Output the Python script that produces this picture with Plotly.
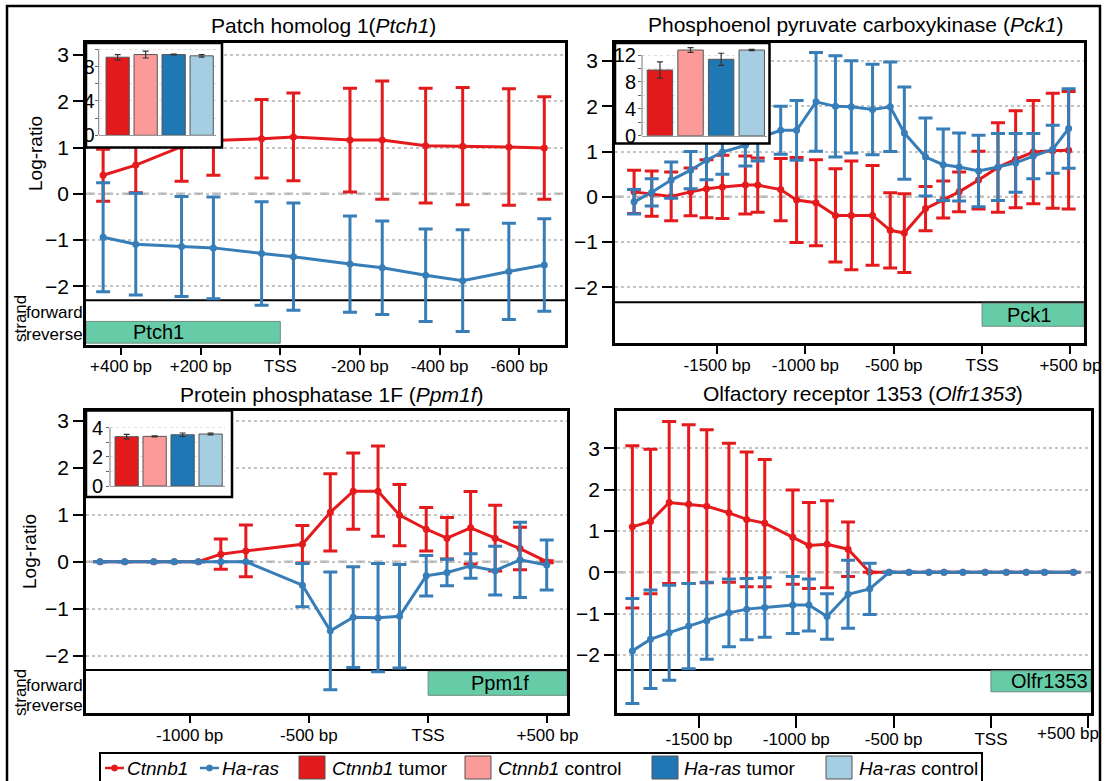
import plotly.graph_objects as go

W, H = 1105, 781
FONT = "Liberation Sans, Arial, sans-serif"


def fx(px):
    return px / W


def fy(py):
    return 1 - py / H


RED = "#E41A1C"
BLUE = "#377EB8"
BAR_COLORS = ["#E31A1C", "#FB9A99", "#1F78B4", "#A6CEE3"]
GENE_FILL = "rgb(102,204,168)"

# ---------------- data ----------------
# Ptch1 (reverse strand, x axis reversed)
ptch1_pos = [445, 363, 248, 168, 47, -33, -175, -256, -365, -458, -574, -663]
ptch1_ctnnb1 = [0.40, 0.62, 1.02, 1.15, 1.19, 1.23, 1.16, 1.16, 1.04, 1.03, 1.01, 0.99]
ptch1_ctnnb1_err = [0.56, 0.60, 0.75, 0.75, 0.85, 0.95, 1.12, 1.28, 1.24, 1.27, 1.26, 1.11]
ptch1_hras = [-0.94, -1.09, -1.14, -1.17, -1.29, -1.36, -1.52, -1.60, -1.76, -1.88, -1.68, -1.54]
ptch1_hras_err = [1.18, 1.10, 1.08, 1.10, 1.12, 1.16, 1.04, 1.01, 1.00, 1.10, 1.04, 1.00]
ptch1_ticks = [400, 200, 0, -200, -400, -600]
ptch1_ticktext = ["+400 bp", "+200 bp", "TSS", "-200 bp", "-400 bp", "-600 bp"]

# Pck1
pck1_pos = [-1970, -1870, -1760, -1650, -1560, -1470, -1340, -1270, -1140, -1050, -940, -830,
            -740, -620, -520, -440, -320, -220, -130, -20, 90, 190, 290, 400, 490]
pck1_ctnnb1 = [0.11, 0.07, 0.01, 0.11, 0.18, 0.22, 0.26, 0.26, 0.16, -0.07, -0.13, -0.41,
               -0.41, -0.41, -0.74, -0.80, -0.26, -0.06, 0.11, 0.37, 0.65, 0.83, 0.99, 1.02, 1.03]
pck1_ctnnb1_err = [0.48, 0.50, 0.54, 0.53, 0.64, 0.70, 0.64, 0.60, 0.69, 0.94, 0.95, 1.03,
                   1.20, 1.10, 0.83, 0.87, 0.49, 0.41, 0.44, 0.64, 0.99, 1.07, 1.14, 1.27, 1.30]
pck1_hras = [-0.11, 0.10, 0.37, 0.59, 0.81, 0.99, 1.14, 1.29, 1.47, 1.47, 2.10, 2.00,
             1.99, 1.93, 1.99, 1.41, 0.88, 0.71, 0.66, 0.57, 0.66, 0.75, 0.90, 1.05, 1.51]
pck1_hras_err = [0.27, 0.30, 0.40, 0.41, 0.43, 0.49, 0.46, 0.50, 0.53, 0.66, 1.09, 1.12,
                 1.02, 1.00, 0.99, 1.02, 0.86, 0.79, 0.75, 0.79, 0.74, 0.65, 0.50, 0.53, 0.88]
pck1_ticks = [-1500, -1000, -500, 0, 500]
pck1_ticktext = ["-1500 bp", "-1000 bp", "-500 bp", "TSS", "+500 bp"]

# Ppm1f
ppm1f_pos = [-1375, -1272, -1150, -1064, -963, -869, -764, -527, -410, -314, -210, -120,
             -8, 79, 178, 281, 385, 497]
ppm1f_ctnnb1 = [0, 0, 0, 0, 0, 0.16, 0.23, 0.37, 1.05, 1.50, 1.50, 0.99, 0.69, 0.50, 0.72, 0.50, 0.28, 0.0]
ppm1f_ctnnb1_err = [0, 0, 0, 0, 0, 0.32, 0.55, 0.40, 0.82, 0.81, 0.96, 0.65, 0.46, 0.44, 0.77, 0.70, 0.45, 0.02]
ppm1f_hras = [0, 0, 0, 0, 0, 0, 0, -0.50, -1.47, -1.18, -1.19, -1.16, -0.30, -0.23, -0.09, -0.19, 0.04, -0.07]
ppm1f_hras_err = [0, 0, 0, 0, 0, 0, 0, 0.46, 1.25, 1.07, 1.15, 1.10, 0.43, 0.28, 0.26, 0.52, 0.80, 0.53]
ppm1f_ticks = [-1000, -500, 0, 500]
ppm1f_ticktext = ["-1000 bp", "-500 bp", "TSS", "+500 bp"]

# Olfr1353 (the +500 bp label is pulled inside the frame, see annotation below)
olfr_pos = [-1842, -1749, -1653, -1553, -1460, -1346, -1255, -1162, -1018, -935, -842, -734,
            -623, -523, -421, -319, -241, -144, -30, 79, 181, 275, 424]
olfr_ctnnb1 = [1.10, 1.23, 1.69, 1.65, 1.60, 1.44, 1.28, 1.19, 0.85, 0.65, 0.68, 0.56,
               0, 0, 0, 0, 0, 0, 0, 0, 0, 0, 0]
olfr_ctnnb1_err = [1.96, 1.75, 1.96, 1.92, 1.85, 1.68, 1.63, 1.54, 1.14, 1.04, 1.05, 0.66,
                   0, 0, 0, 0, 0, 0, 0, 0, 0, 0, 0]
olfr_hras = [-1.90, -1.62, -1.46, -1.30, -1.17, -0.98, -0.89, -0.85, -0.79, -0.79, -1.07, -0.53,
             -0.40, 0, 0, 0, 0, 0, 0, 0, 0, 0, 0]
olfr_hras_err = [1.27, 1.19, 1.15, 1.03, 0.93, 0.82, 0.74, 0.72, 0.69, 0.63, 0.55, 0.82,
                 0.62, 0, 0, 0, 0, 0, 0, 0, 0, 0, 0]
olfr_ticks = [-1500, -1000, -500, 0, 500]
olfr_ticktext = ["-1500 bp", "-1000 bp", "-500 bp", "TSS", ""]

# inset expression bars: Ctnnb1 tumor, Ctnnb1 control, Ha-ras tumor, Ha-ras control
bar_groups = ["Ctnnb1 tumor", "Ctnnb1 control", "Ha-ras tumor", "Ha-ras control"]
ptch1_expr = [9.08, 9.39, 9.39, 9.24]
ptch1_expr_err = [0.30, 0.40, 0.05, 0.15]
pck1_expr = [9.78, 12.75, 11.37, 12.75]
pck1_expr_err = [1.20, 0.35, 0.90, 0.10]
ppm1f_expr = [3.38, 3.40, 3.51, 3.56]
ppm1f_expr_err = [0.15, 0.04, 0.12, 0.06]

y_ticks = [-2, -1, 0, 1, 2, 3]
y_ticktext = ["\u22122", "\u22121", "0", "1", "2", "3"]

# ---------------- panel layout ----------------
panels = [
    dict(xa="x", ya="y", box=(86, 565, 43, 345), xr=[488, -715], yr=[-3.27, 3.26], strand=-2.30,
         pos=ptch1_pos, red=ptch1_ctnnb1, rede=ptch1_ctnnb1_err, blue=ptch1_hras, bluee=ptch1_hras_err,
         ticks=ptch1_ticks, ticktext=ptch1_ticktext, gene="Ptch1", gx=(0, 488), gy=(-2.76, -3.23), gtx=307,
         title="Patch homolog 1(<i>Ptch1</i>)", tpos=(323, 25), tl=7),
    dict(xa="x2", ya="y2", box=(615, 1084, 43, 343), xr=[-2078, 577], yr=[-3.23, 3.40], strand=-2.33,
         pos=pck1_pos, red=pck1_ctnnb1, rede=pck1_ctnnb1_err, blue=pck1_hras, bluee=pck1_hras_err,
         ticks=pck1_ticks, ticktext=pck1_ticktext, gene="Pck1", gx=(0, 577), gy=(-2.35, -2.86), gtx=266,
         title="Phosphoenol pyruvate carboxykinase (<i>Pck1</i>)", tpos=(856, 24), tl=8),
    dict(xa="x3", ya="y3", box=(86, 567, 410.7, 712.7), xr=[-1434, 582], yr=[-3.21, 3.21], strand=-2.30,
         pos=ppm1f_pos, red=ppm1f_ctnnb1, rede=ppm1f_ctnnb1_err, blue=ppm1f_hras, bluee=ppm1f_hras_err,
         ticks=ppm1f_ticks, ticktext=ppm1f_ticktext, gene="Ppm1f", gx=(0, 582), gy=(-2.33, -2.84), gtx=301,
         title="Protein phosphatase 1F (<i>Ppm1f</i>)", tpos=(332, 395), tl=8),
    dict(xa="x4", ya="y4", box=(617, 1091, 410.7, 713.3), xr=[-1921, 514], yr=[-3.41, 3.91], strand=-2.36,
         pos=olfr_pos, red=olfr_ctnnb1, rede=olfr_ctnnb1_err, blue=olfr_hras, bluee=olfr_hras_err,
         ticks=olfr_ticks, ticktext=olfr_ticktext, gene="Olfr1353", gx=(0, 514), gy=(-2.38, -2.89), gtx=300,
         title="Olfactory receptor 1353 (<i>Olfr1353</i>)", tpos=(863, 393), tl=12),
]

fig = go.Figure()
layout = dict(
    template="none",
    width=W, height=H, margin=dict(l=0, r=0, t=0, b=0, pad=0), autosize=False,
    paper_bgcolor="white", plot_bgcolor="rgba(0,0,0,0)",
    font=dict(family=FONT, color="black"),
    showlegend=False, bargap=0.17,
)
shapes = []
annotations = []


def axkey(a):
    return ("xaxis" if a[0] == "x" else "yaxis") + a[1:]


def paper_text(x, y, text, size, xanchor="center", angle=0):
    annotations.append(dict(xref="paper", yref="paper", x=fx(x), y=fy(y), text=text,
                            xanchor=xanchor, yanchor="middle", textangle=angle, showarrow=False,
                            font=dict(size=size, family=FONT, color="black")))


for p in panels:
    xa, ya = p["xa"], p["ya"]
    for vals, errs, col in ((p["red"], p["rede"], RED), (p["blue"], p["bluee"], BLUE)):
        fig.add_trace(go.Scatter(
            x=p["pos"], y=vals, xaxis=xa, yaxis=ya, mode="lines+markers",
            line=dict(color=col, width=3), marker=dict(color=col, size=7),
            error_y=dict(type="data", array=errs, visible=True, color=col, thickness=3, width=7),
        ))
    x0, x1, y0, y1 = p["box"]
    layout[axkey(xa)] = dict(
        domain=[fx(x0), fx(x1)], range=p["xr"], anchor=ya, automargin=False,
        tickvals=p["ticks"], ticktext=p["ticktext"], ticks="outside", ticklen=p["tl"], tickwidth=1.5,
        tickcolor="black", showline=True, linecolor="black", linewidth=2.5, mirror=True,
        showgrid=False, zeroline=False, tickfont=dict(size=17, family=FONT),
        ticklabelstandoff=-3,
    )
    layout[axkey(ya)] = dict(
        domain=[fy(y1), fy(y0)], range=p["yr"], anchor=xa, automargin=False,
        tickvals=y_ticks, ticktext=y_ticktext, ticks="outside", ticklen=10, tickwidth=1.5,
        tickcolor="black", showline=True, linecolor="black", linewidth=2.5, mirror=True,
        showgrid=True, gridcolor="#c4c4c4", griddash="dot", gridwidth=1.5, zeroline=False,
        tickfont=dict(size=21, family=FONT),
    )
    # zero line
    shapes.append(dict(type="line", xref=f"{xa} domain", yref=ya, x0=0, x1=1, y0=0, y1=0,
                       line=dict(color="#b4b4b4", width=2.5, dash="dash"), layer="below"))
    # strand divider
    shapes.append(dict(type="line", xref=f"{xa} domain", yref=ya, x0=0, x1=1,
                       y0=p["strand"], y1=p["strand"], line=dict(color="black", width=2), layer="below"))
    # gene box
    shapes.append(dict(type="rect", xref=xa, yref=ya, x0=p["gx"][0], x1=p["gx"][1],
                       y0=p["gy"][0], y1=p["gy"][1], fillcolor=GENE_FILL,
                       line=dict(color="rgb(110,140,125)", width=1), layer="below"))
    annotations.append(dict(xref=xa, yref=ya, x=p["gtx"], y=(p["gy"][0] + p["gy"][1]) / 2,
                            xanchor="center", yanchor="middle",
                            text=p["gene"], showarrow=False, font=dict(size=20, family=FONT)))
    paper_text(p["tpos"][0], p["tpos"][1], p["title"], 21)

# Olfr1353 "+500 bp" label is shifted left to stay inside the figure
paper_text(1068, 733, "+500 bp", 17)

# ---------------- white inset boxes (overlay subplot in pixel units) ----------------
inset_boxes = [(86, 222, 43, 147.5), (615, 769.5, 43, 143.5), (86, 232, 410.5, 497)]
for (bx0, bx1, by0, by1) in inset_boxes:
    fig.add_trace(go.Scatter(
        x=[bx0, bx1, bx1, bx0, bx0], y=[by0, by0, by1, by1, by0], xaxis="x5", yaxis="y5",
        mode="lines", fill="toself", fillcolor="white", line=dict(color="black", width=2.5),
        hoverinfo="skip", cliponaxis=False,
    ))
layout["xaxis5"] = dict(domain=[0, 1], range=[0, W], anchor="y5", visible=False, showgrid=False,
                        zeroline=False, automargin=False)
layout["yaxis5"] = dict(domain=[0, 1], range=[H, 0], anchor="x5", visible=False, showgrid=False,
                        zeroline=False, automargin=False)

# ---------------- inset bar charts ----------------
insets = [
    dict(xa="x6", ya="y6", vals=ptch1_expr, errs=ptch1_expr_err, xd=(98.7, 215.6), xr=[-0.677, 3.498],
         zero=135.3, unit=8.6, top=10.6, axtop=10, tv=[0, 2, 4, 6, 8, 10], tt=["0", "", "4", "", "8", ""],
         so=-4),
    dict(xa="x7", ya="y7", vals=pck1_expr, errs=pck1_expr_err, xd=(642, 767), xr=[-0.586, 3.498],
         zero=135.7, unit=6.72, top=13.5, axtop=12, tv=[0, 2, 4, 6, 8, 10, 12],
         tt=["0", "", "4", "", "8", "", "12"], so=-2),
    dict(xa="x8", ya="y8", vals=ppm1f_expr, errs=ppm1f_expr_err, xd=(110, 224.6), xr=[-0.595, 3.5],
         zero=486, unit=14.6, top=4.3, axtop=4, tv=[0, 1, 2, 3, 4], tt=["0", "", "2", "", "4"], so=-1),
]
for ins in insets:
    fig.add_trace(go.Bar(
        x=list(range(len(bar_groups))), y=ins["vals"], xaxis=ins["xa"], yaxis=ins["ya"],
        marker=dict(color=BAR_COLORS, line=dict(color="#555555", width=1)),
        error_y=dict(type="data", array=ins["errs"], visible=True, color="#333333", thickness=1.2, width=3),
        hovertext=bar_groups,
    ))
    ytop_px = ins["zero"] - ins["top"] * ins["unit"]
    layout[axkey(ins["xa"])] = dict(
        domain=[fx(ins["xd"][0]), fx(ins["xd"][1])], range=ins["xr"], anchor=ins["ya"],
        showticklabels=False, ticks="", showgrid=False, zeroline=False, automargin=False,
        showline=True, linecolor="#999999", linewidth=1,
    )
    layout[axkey(ins["ya"])] = dict(
        domain=[fy(ins["zero"]), fy(ytop_px)], range=[0, ins["top"]], anchor=ins["xa"],
        tickvals=ins["tv"], ticktext=ins["tt"], ticks="outside", ticklen=3, tickcolor="#666666",
        showline=False, showgrid=True, gridcolor="#e0e0e0", automargin=False,
        griddash="dot", gridwidth=1, zeroline=False, tickfont=dict(size=20, family=FONT),
        ticklabelstandoff=ins["so"],
    )
    # R-style axis line from 0 to last tick
    shapes.append(dict(type="line", xref=f"{ins['xa']} domain", yref=ins["ya"], x0=0, x1=0,
                       y0=0, y1=ins["axtop"], line=dict(color="#777777", width=1), layer="above"))

# ---------------- axis titles and strand labels ----------------
for (x, y) in [(36, 154), (29, 552)]:
    paper_text(x, y, "Log-ratio", 19, angle=-90)
for (sy, fyv, ry) in [(319, 313, 334), (693, 685, 705)]:
    paper_text(20, sy, "strand", 17, angle=-90)
    paper_text(85, fyv, "forward", 17, xanchor="right")
    paper_text(85, ry, "reverse", 17, xanchor="right")

# ---------------- outer frame ----------------
shapes.append(dict(type="rect", xref="paper", yref="paper", x0=fx(7), x1=fx(1100), y0=fy(6), y1=fy(800),
                   line=dict(color="black", width=2.5), fillcolor="rgba(0,0,0,0)", layer="above"))

# ---------------- legend (drawn manually) ----------------
LY = 768
shapes.append(dict(type="rect", xref="paper", yref="paper", x0=fx(100), x1=fx(982), y0=fy(753), y1=fy(800),
                   line=dict(color="black", width=2), fillcolor="white", layer="above"))
legend_lines = [(105, 124, RED, "<i>Ctnnb1</i>", 125), (200, 219, BLUE, "<i>Ha-ras</i>", 220)]
for (lx0, lx1, col, txt, tx) in legend_lines:
    shapes.append(dict(type="line", xref="paper", yref="paper", x0=fx(lx0), x1=fx(lx1), y0=fy(LY), y1=fy(LY),
                       line=dict(color=col, width=2.5), layer="above"))
    cx = (lx0 + lx1) / 2
    shapes.append(dict(type="circle", xref="paper", yref="paper", x0=fx(cx - 3), x1=fx(cx + 3),
                       y0=fy(LY - 3), y1=fy(LY + 3), fillcolor=col, line=dict(color=col, width=1),
                       layer="above"))
    paper_text(tx, LY, txt, 19, xanchor="left")
legend_boxes = [(299, "<i>Ctnnb1</i> tumor", 330), (465, "<i>Ctnnb1</i> control", 496),
                (652, "<i>Ha-ras</i> tumor", 682), (826, "<i>Ha-ras</i> control", 857)]
for (sx, txt, tx), col in zip(legend_boxes, BAR_COLORS):
    shapes.append(dict(type="rect", xref="paper", yref="paper", x0=fx(sx), x1=fx(sx + 26),
                       y0=fy(756), y1=fy(779), fillcolor=col, line=dict(color="#555555", width=1),
                       layer="above"))
    paper_text(tx, LY, txt, 19, xanchor="left")

layout["shapes"] = shapes
layout["annotations"] = annotations
fig.update_layout(**layout)
fig.write_html("out.html")
